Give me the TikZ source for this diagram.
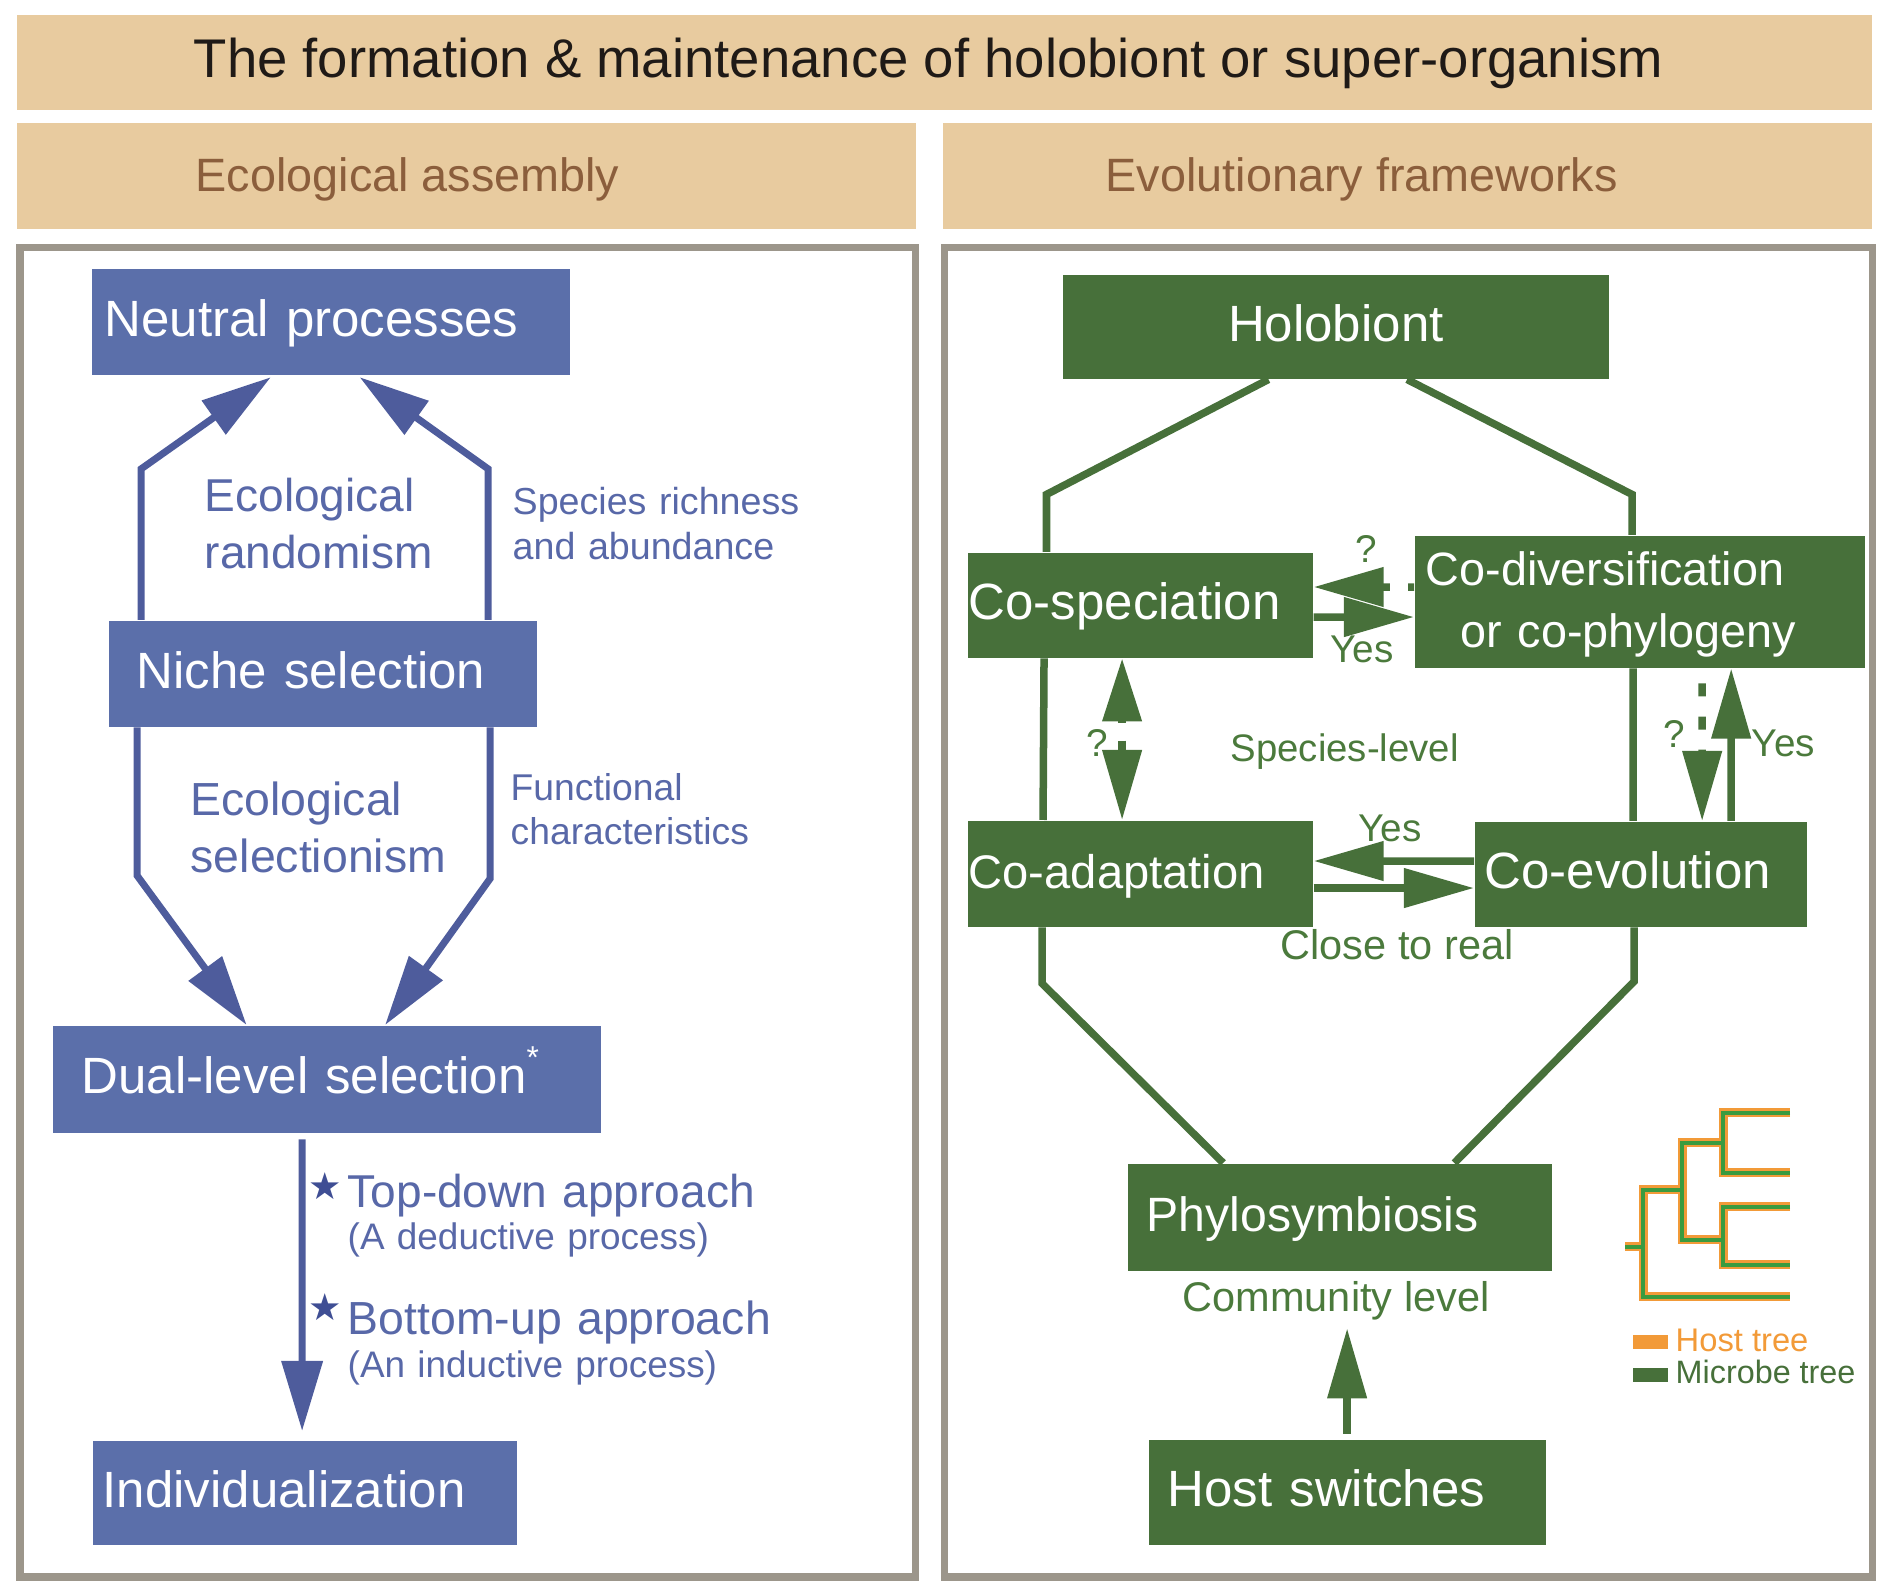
\documentclass[tikz,border=0pt]{standalone}
\usepackage{fontspec}
\setmainfont{Liberation Sans}
\newfontfamily\symfont{DejaVu Sans}
\usepackage{tikz}
\usetikzlibrary{arrows.meta}
\usetikzlibrary{calc}
\definecolor{bandbeige}{HTML}{E8CB9F}
\definecolor{headbrown}{HTML}{8B5E3C}
\definecolor{titleblack}{HTML}{1F1A17}
\definecolor{framegray}{HTML}{9C968B}
\definecolor{ecoblue}{HTML}{5B6FAA}
\definecolor{ecoline}{HTML}{4E5C9C}
\definecolor{ecotext}{HTML}{5868A8}
\definecolor{stardark}{HTML}{3F4E94}
\definecolor{evogreen}{HTML}{47703A}
\definecolor{evotext}{HTML}{4B7A3C}
\definecolor{hostorange}{HTML}{F29A38}
\definecolor{treegreen}{HTML}{3A9B3F}
\tikzset{
  ecobox/.style={fill=ecoblue, text=white, anchor=north west, inner ysep=0pt,
    minimum height=1.05cm, text height=0.29cm, text depth=0pt, align=left,
    font=\fontsize{14.5}{17}\selectfont},
  evobox/.style={ecobox, fill=evogreen},
  ecoarrow/.style={draw=ecoline, line width=0.07cm, line join=miter,
    -{Triangle[length=0.7cm,width=0.4cm]}},
  evoline/.style={draw=evogreen, line width=0.075cm},
  evoarrow/.style={evoline, -{Triangle[length=0.7cm,width=0.38cm]}},
  ecolabel/.style={text=ecotext, anchor=base west, inner sep=0pt, align=left, text width=5cm},
  evolabel/.style={text=evotext, anchor=base west, inner sep=0pt},
  treeline/.style={line width=#1}
}

\begin{document}
\begin{tikzpicture}[x=0.01cm, y=-0.01cm]
\useasboundingbox (0,0) rectangle (1890,1592);

\fill[bandbeige] (17,15) rectangle (1872,110);
\fill[bandbeige] (17,123) rectangle (916,229);
\fill[bandbeige] (943,123) rectangle (1872,229);
\node[anchor=base west, inner sep=0pt, text=titleblack, font=\fontsize{15.5}{18}\selectfont] (title) at (193,78) {The formation \& maintenance of holobiont or super-organism};
\node[anchor=base west, inner sep=0pt, text=headbrown, font=\fontsize{13.3}{16}\selectfont] (ecohead) at (195,192) {Ecological assembly};
\node[anchor=base west, inner sep=0pt, text=headbrown, font=\fontsize{13.3}{16}\selectfont] (evohead) at (1105,192) {Evolutionary frameworks};
\draw[framegray, line width=0.07cm] (20,248) rectangle (915,1577);
\draw[framegray, line width=0.07cm] (944,248) rectangle (1872,1577);

\node[ecobox, text width=4.52cm, inner xsep=0.13cm, minimum height=1.06cm] (neutral) at (91,268) {Neutral processes};
\node[ecobox, text width=3.72cm, inner xsep=0.28cm, minimum height=1.06cm] (niche) at (108,620) {Niche selection};
\node[ecobox, text width=4.90cm, inner xsep=0.29cm, minimum height=1.07cm] (dual) at (52,1025) {Dual-level selection\raisebox{7.3pt}{\fontsize{9}{9}\selectfont *}};
\node[ecobox, text width=4.04cm, inner xsep=0.10cm, minimum height=1.04cm] (indiv) at (92,1440) {Individualization};

\node[ecolabel, font=\fontsize{13.1}{16}\selectfont] (random) at (204,512) {Ecological\\randomism};
\node[ecolabel, font=\fontsize{10.7}{12.7}\selectfont] (richness) at (512,515) {Species richness\\and abundance};
\node[ecolabel, font=\fontsize{13.2}{16.1}\selectfont] (select) at (190,816) {Ecological\\selectionism};
\node[ecolabel, font=\fontsize{10.6}{12.5}\selectfont] (functional) at (510,801) {Functional\\characteristics};
\node[ecolabel, font=\fontsize{13.1}{15}\selectfont] (topdown) at (347,1208) {Top-down approach};
\node[ecolabel, font=\fontsize{10.5}{12}\selectfont] (deductive) at (347,1250) {(A deductive process)};
\node[ecolabel, font=\fontsize{13.2}{15}\selectfont] (bottomup) at (347,1335) {Bottom-up approach};
\node[ecolabel, font=\fontsize{10.5}{12}\selectfont] (inductive) at (347,1378) {(An inductive process)};
\node[anchor=base, inner sep=0pt, text=stardark, font=\symfont\fontsize{10.6}{12}\selectfont] (star1) at (325,1200) {★};
\node[anchor=base, inner sep=0pt, text=stardark, font=\symfont\fontsize{10.6}{12}\selectfont] (star2) at (325,1321) {★};

\draw[ecoarrow, shorten >=0.03cm] ([xshift=0.33cm]niche.north west) -- ++(0,-151) -- ($(neutral.south west)!0.38!(neutral.south east)$);
\draw[ecoarrow, shorten >=0.03cm] ([xshift=3.80cm]niche.north west) -- ++(0,-151) -- ($(neutral.south west)!0.555!(neutral.south east)$);
\draw[ecoarrow] ([xshift=0.29cm]niche.south west) -- ++(0,148) -- ($(dual.north west)!0.354!(dual.north east)$);
\draw[ecoarrow] ([xshift=3.82cm]niche.south west) -- ++(0,151) -- ($(dual.north west)!0.606!(dual.north east)$);
\draw[ecoarrow, shorten <=0.06cm, shorten >=0.09cm] ([xshift=2.50cm]dual.south west) -- ([xshift=2.10cm]indiv.north west);

\node[evobox, text width=5.46cm, inner xsep=0pt, align=center, minimum height=1.04cm] (holo) at (1062,274) {Holobiont};
\node[evobox, text width=3.43cm, inner xsep=0.01cm] (cospec) at (967,552) {Co-speciation};
\node[evobox, text width=4.28cm, inner xsep=0.11cm, minimum height=1.32cm, text height=0.50cm, text depth=0.82cm, font=\fontsize{13.3}{17.6}\selectfont] (codiv) at (1414,535) {Co-diversification\\\hspace*{0.35cm}or co-phylogeny};
\node[evobox, text width=3.43cm, inner xsep=0.01cm, minimum height=1.06cm, font=\fontsize{13.4}{16}\selectfont] (coadapt) at (967,820) {Co-adaptation};
\node[evobox, text width=3.12cm, inner xsep=0.10cm] (coevo) at (1474,821) {Co-evolution};
\node[evobox, text width=3.86cm, inner xsep=0.19cm, minimum height=1.07cm, font=\fontsize{13.7}{16}\selectfont] (phylo) at (1127,1163) {Phylosymbiosis};
\node[evobox, text width=3.59cm, inner xsep=0.19cm] (host) at (1148,1439) {Host switches};

\node[evolabel, font=\fontsize{10.9}{13}\selectfont] (species) at (1230,762) {Species-level};
\node[evolabel, font=\fontsize{11.8}{14}\selectfont] (closereal) at (1280,960) {Close to real};
\node[evolabel, inner ysep=0.07cm, font=\fontsize{11.8}{14}\selectfont] (community) at (1182,1312) {Community level};
\node[evolabel, anchor=base, font=\fontsize{11}{13}\selectfont] (q1) at (1366,563) {?};
\node[evolabel, anchor=base, font=\fontsize{11}{13}\selectfont] (q2) at (1097,757) {?};
\node[evolabel, anchor=base, font=\fontsize{11}{13}\selectfont] (q3) at (1674,748) {?};
\node[evolabel, font=\fontsize{11}{13}\selectfont] (yes1) at (1330,663) {Yes};
\node[evolabel, font=\fontsize{11}{13}\selectfont] (yes2) at (1358,842) {Yes};
\node[evolabel, font=\fontsize{11}{13}\selectfont] (yes3) at (1751,757) {Yes};

\draw[evoline] ($(holo.south west)!0.377!(holo.south east)$) -- ++(-222,115) coordinate (bendL) -- (cospec.north -| bendL);
\draw[evoline] ($(holo.south west)!0.63!(holo.south east)$) -- ++(225,115) coordinate (bendR) -- (codiv.north -| bendR);
\draw[evoline] ([xshift=0.77cm]cospec.south west) -- ([xshift=0.76cm]coadapt.north west);
\draw[evoline] ([xshift=2.19cm]codiv.south west) -- ([xshift=1.59cm]coevo.north west);
\draw[evoline] ([xshift=0.75cm]coadapt.south west) -- ++(0,56) -- ($(phylo.north west)!0.226!(phylo.north east)$);
\draw[evoline] ([xshift=1.60cm]coevo.south west) -- ++(0,54) -- ($(phylo.north west)!0.769!(phylo.north east)$);

\draw[evoarrow, dash pattern=on 0.06cm off 0.18cm on 0.3cm] ([yshift=-0.52cm]codiv.north west) -- ([yshift=-0.35cm]cospec.north east);
\draw[evoarrow] ([yshift=-0.65cm]cospec.north east) -- ([yshift=-0.82cm]codiv.north west);
\draw[evoarrow] ([yshift=-0.40cm]coevo.north west) -- ([yshift=-0.41cm]coadapt.north east);
\draw[evoarrow] ([yshift=-0.68cm]coadapt.north east) -- ([yshift=-0.67cm]coevo.north west);
\draw[evoline, {Triangle[length=0.63cm,width=0.38cm]}-{Triangle[length=0.7cm,width=0.38cm]}, dash pattern=on 0.03cm off 0.18cm on 0.3cm] ([xshift=1.55cm]cospec.south west) -- ([xshift=1.55cm]coadapt.north west);
\draw[evoarrow, dash pattern=on 0.13cm off 0.2cm, dash phase=0.18cm] ([xshift=2.88cm]codiv.south west) -- ([xshift=2.28cm]coevo.north west);
\draw[evoarrow] ([xshift=2.57cm]coevo.north west) -- ([xshift=3.17cm]codiv.south west);
\coordinate (hs) at ([xshift=1.99cm]host.north west);
\draw[evoarrow, shorten <=0.05cm] (hs) -- (hs |- community.south);

\foreach \c/\w in {hostorange/0.09cm, treegreen/0.045cm}
  \draw[\c, treeline=\w] (1790,1113) -| (1723,1173) -- (1790,1173)
    (1790,1207) -| (1723,1265) -- (1790,1265)
    (1723,1143) -| (1682,1240) -- (1723,1240)
    (1682,1190) -| (1643,1297) -- (1790,1297)
    (1625,1247) -- (1643,1247);
\fill[hostorange] (1633,1335) rectangle (1668,1349);
\fill[evogreen] (1633,1368) rectangle (1668,1382);
\node[anchor=base west, inner sep=0pt, text=hostorange, font=\fontsize{9.3}{11}\selectfont] (hosttree) at (1675,1352) {Host tree};
\node[anchor=base west, inner sep=0pt, text=evogreen, font=\fontsize{9.2}{11}\selectfont] (microbetree) at (1675,1384) {Microbe tree};

\end{tikzpicture}
\end{document}
